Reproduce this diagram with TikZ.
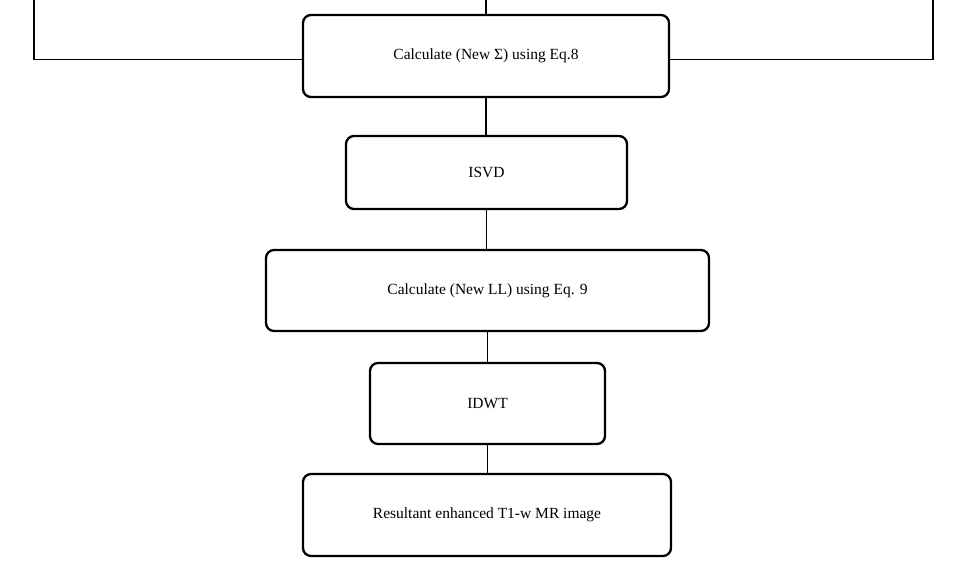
\documentclass[tikz,border=0pt]{standalone}
\usepackage{fontspec}
\setmainfont{Liberation Serif}
\begin{document}
\begin{tikzpicture}[x=1pt,y=-1pt,
  procbox/.style={draw=black,line width=2.3pt,rounded corners=8pt,inner sep=0pt,font=\fontsize{15.5}{18}\selectfont,text=black},
  conn/.style={draw=black,line width=1.8pt}]
\useasboundingbox (0,0) rectangle (970,568);
\node[procbox,minimum width=366pt,minimum height=82pt] (b1) at (486,56) {Calculate (New Σ) using Eq.8};
\node[procbox,minimum width=281pt,minimum height=73pt] (b2) at (486.5,172.5) {ISVD};
\node[procbox,minimum width=443pt,minimum height=81pt] (b3) at (487.5,290.5) {Calculate (New LL) using Eq. 9};
\node[procbox,minimum width=235pt,minimum height=81pt] (b4) at (487.5,403.5) {IDWT};
\node[procbox,minimum width=368pt,minimum height=82pt] (b5) at (487,515) {Resultant enhanced T1-w MR image};
\coordinate (top) at (486,0);
\coordinate (tl) at (34,0);
\coordinate (tr) at (933,0);
\coordinate (lj) at (303,59.5);
\coordinate (rj) at (669,59.5);
\draw[conn] (top) -- (b1.north);
\draw[conn] (lj) -| (tl);
\draw[conn] (rj) -| (tr);
\draw[conn] (b1.south) -- (b1.south |- b2.north);
\draw[conn] (b2.south) -- (b2.south |- b3.north);
\draw[conn] (b3.south) -- (b3.south |- b4.north);
\draw[conn] (b4.south) -- (b4.south |- b5.north);
\end{tikzpicture}
\end{document}
